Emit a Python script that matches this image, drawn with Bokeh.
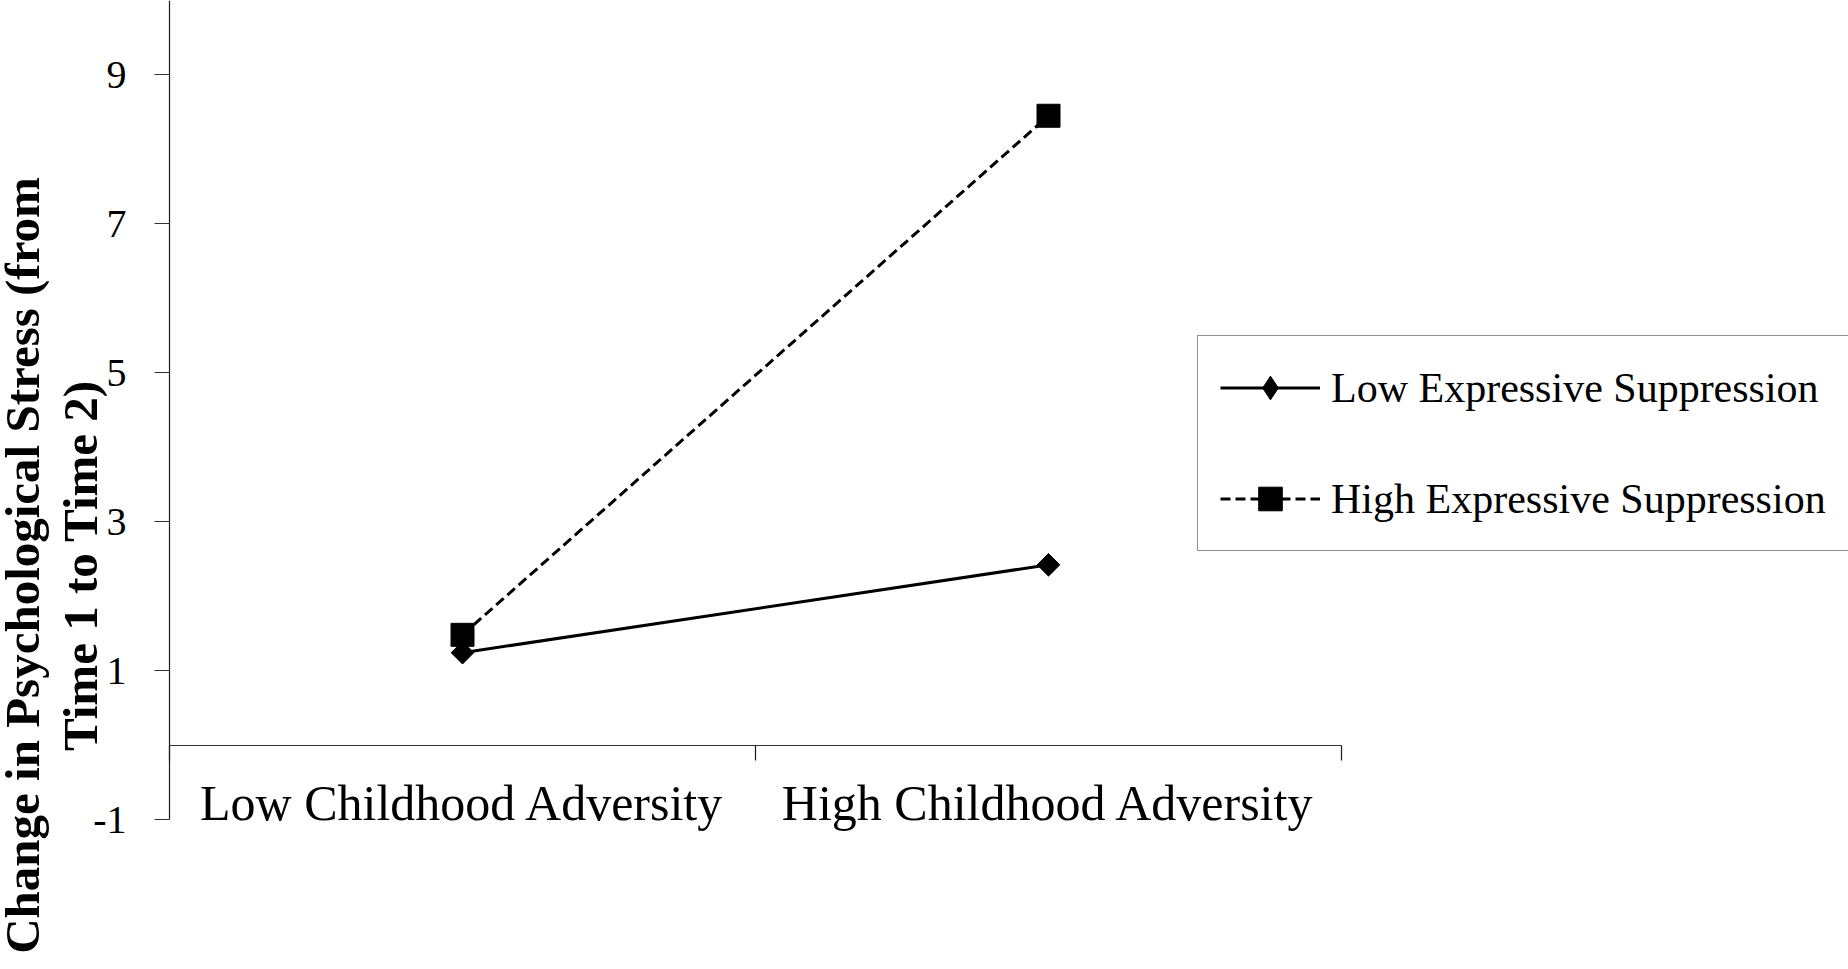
from math import pi
import numpy as np
from bokeh.plotting import figure
from bokeh.models import (Range1d, FixedTicker, LinearAxis, Label,
                          Legend, LegendItem, ColumnDataSource)
from bokeh.embed import file_html
from bokeh.resources import INLINE

# ---- data ----
categories = ["Low Childhood Adversity", "High Childhood Adversity"]
low_suppression = [1.24, 2.42]
high_suppression = [1.48, 8.45]
series_names = ["Low Expressive Suppression", "High Expressive Suppression"]
y_ticks = [-1, 1, 3, 5, 7, 9]
y_title_lines = ["Change in Psychological Stress (from", "Time 1 to Time 2)"]

FONT = "Liberation Serif"
W, H = 1848, 969
X0_PX, CAT_PX = 169, 586          # left edge of the category axis, px per category
YM1_PX, Y_PX = 819, 74.47         # pixel row of y = -1, px per y unit

X_LO = -X0_PX / CAT_PX
X_HI = (W - X0_PX) / CAT_PX
Y_TOP = -1 + YM1_PX / Y_PX
Y_BOT = -1 - (H - YM1_PX) / Y_PX

p = figure(
    x_range=Range1d(X_LO, X_HI), y_range=Range1d(Y_BOT, Y_TOP),
    frame_width=W, frame_height=H, min_border=0,
    output_backend="svg", toolbar_location=None,
    background_fill_color="white", border_fill_color="white",
    outline_line_color=None,
)
p.xgrid.visible = False
p.ygrid.visible = False

# y axis, fixed at the left end of the category axis
ya = p.yaxis[0]
ya.fixed_location = 0
ya.bounds = (-1, Y_TOP)
ya.ticker = FixedTicker(ticks=y_ticks)
ya.major_label_overrides = {t: str(t) for t in y_ticks}
ya.major_tick_out = 15
ya.major_tick_in = 0
ya.minor_tick_line_color = None
ya.axis_line_color = "#1a1a1a"
ya.axis_line_width = 1.2
ya.major_tick_line_color = "#333333"
ya.major_tick_line_width = 1.2
ya.major_label_text_font = FONT
ya.major_label_text_font_size = "40px"
ya.major_label_text_color = "black"
ya.major_label_standoff = 28

# category axis (labels at category centres), crossing at y = 0
centers = [i + 0.5 for i in range(len(categories))]
xa = p.xaxis[0]
xa.fixed_location = 0
xa.ticker = FixedTicker(ticks=centers)
xa.major_label_overrides = {c: name for c, name in zip(centers, categories)}
xa.axis_line_color = None
xa.major_tick_line_color = None
xa.major_tick_in = 0
xa.major_tick_out = 0
xa.minor_tick_line_color = None
xa.major_label_standoff = 30
xa.major_label_text_font = FONT
xa.major_label_text_font_size = "50px"
xa.major_label_text_color = "black"
xa.major_label_orientation = "horizontal"

# axis line at y = 0 with tick marks on the category boundaries
ba = LinearAxis(
    ticker=FixedTicker(ticks=list(range(len(categories) + 1))),
    fixed_location=0, bounds=(0, len(categories)),
    major_tick_out=15, major_tick_in=0,
    minor_tick_line_color=None,
    axis_line_color="#333333", axis_line_width=1.2,
    major_tick_line_color="#1a1a1a", major_tick_line_width=1.2,
    major_label_text_font_size="1px", major_label_text_alpha=0,
)
p.add_layout(ba, "below")

# series
src_low = ColumnDataSource(dict(x=centers, y=low_suppression))
src_high = ColumnDataSource(dict(x=centers, y=high_suppression))

l_low = p.line("x", "y", source=src_low, line_color="black", line_width=3)
l_high = p.line("x", "y", source=src_high, line_color="black", line_width=3,
                line_dash="10 5")
m_low = p.scatter("x", "y", source=src_low, marker="square", angle=pi / 4,
                  size=16, fill_color="black", line_color="black")
m_high = p.scatter("x", "y", source=src_high, marker="square", size=23,
                   fill_color="black", line_color="black")
# legend-only proxy for the diamond symbol
proxy_low = p.scatter(x=[centers[0]], y=np.array([np.nan]), marker="diamond",
                      fill_color="black", line_color="black")

legend = Legend(
    items=[LegendItem(label=series_names[0], renderers=[l_low, proxy_low]),
           LegendItem(label=series_names[1], renderers=[l_high, m_high])],
    location=(1197, 418), orientation="vertical",
    glyph_width=100, glyph_height=59, label_height=59,
    label_standoff=11, padding=22, spacing=52, margin=0,
    label_text_font=FONT, label_text_font_size="42px", label_text_color="black",
    border_line_color="#222222", border_line_width=1.5,
    background_fill_color="white", background_fill_alpha=1.0,
)
p.add_layout(legend)

# two-line rotated y-axis title
for xs, txt in zip([22, 80], y_title_lines):
    p.add_layout(Label(
        x=xs, y=H - 565, x_units="screen", y_units="screen", text=txt,
        angle=pi / 2, text_align="center", text_baseline="alphabetic",
        text_font=FONT, text_font_style="bold", text_font_size="49px",
        text_color="black",
    ))

open("out.html", "w").write(file_html(p, INLINE))
